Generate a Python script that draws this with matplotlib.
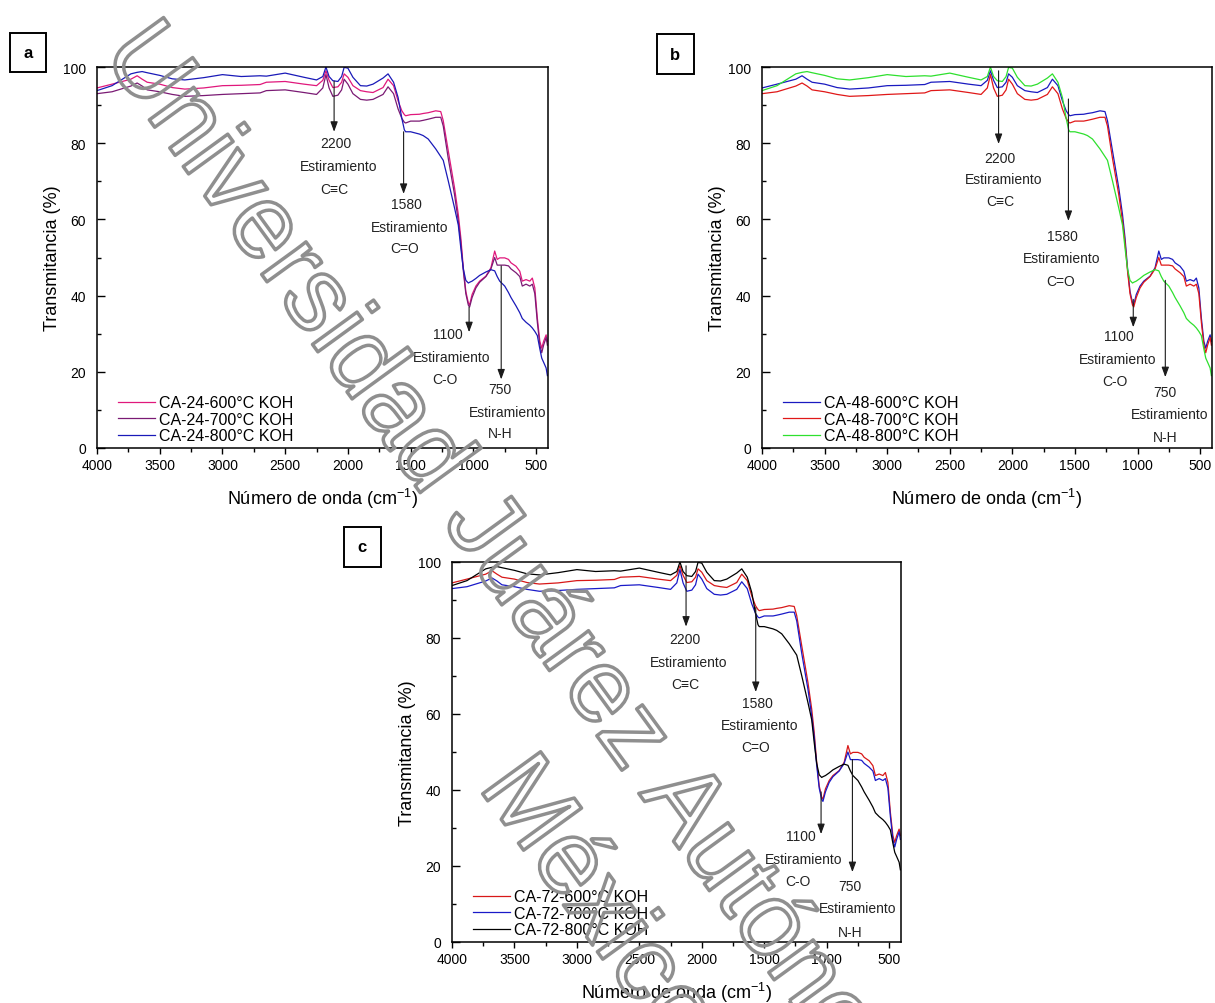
import matplotlib
matplotlib.use('Agg')
import matplotlib.pyplot as plt
import matplotlib.patheffects as pe
from matplotlib.patches import Rectangle
from matplotlib.ticker import MultipleLocator

plt.rcParams['font.family'] = ['Liberation Sans', 'DejaVu Sans']
plt.rcParams['mathtext.default'] = 'regular'

W, H = 1215, 1004

# FTIR spectra, wavenumber in cm-1, transmittance in %
wavenumber = [4000, 3880, 3730, 3680, 3640, 3600, 3500, 3400, 3300, 3150,
              3000, 2850, 2700, 2650, 2500, 2350, 2250, 2200, 2175, 2150,
              2120, 2080, 2050, 2030, 2000, 1960, 1900, 1850, 1800, 1720,
              1680, 1636, 1600, 1570, 1550, 1540, 1500, 1430, 1400, 1360,
              1300, 1260, 1240, 1200, 1150, 1120, 1100, 1080, 1060, 1040,
              1030, 1010, 980, 950, 900, 860, 830, 810, 790, 750,
              720, 700, 660, 630, 610, 580, 550, 530, 510, 490,
              470, 455, 440, 420, 410]

trans_600 = [94.5, 95.5, 96.8, 97.7, 96.8, 96.0, 95.5, 94.6, 94.2, 94.5,
             95.1, 95.2, 95.4, 96.0, 96.2, 95.5, 95.1, 96.5, 99.0, 96.5,
             94.6, 94.8, 96.0, 98.2, 97.3, 95.1, 93.8, 93.5, 93.3, 94.6,
             96.8, 95.1, 91.1, 88.5, 87.5, 87.2, 87.5, 87.6, 87.8, 88.0,
             88.5, 88.3, 85.9, 78.0, 68.3, 61.3, 55.2, 47.3, 41.1, 38.1,
             37.6, 40.3, 42.5, 43.8, 45.1, 47.3, 51.7, 49.5, 49.9, 49.9,
             49.5, 48.6, 47.7, 46.4, 43.8, 44.2, 43.8, 44.6, 42.0, 34.1,
             28.0, 26.2, 28.0, 29.7, 28.0]

trans_700 = [93.0, 93.5, 95.0, 95.8, 95.0, 94.0, 93.5, 92.8, 92.3, 92.5,
             92.8, 93.0, 93.2, 93.8, 94.0, 93.3, 92.8, 94.5, 98.0, 94.5,
             92.3, 92.6, 94.0, 96.8, 95.5, 93.0, 91.5, 91.3, 91.5, 92.8,
             94.8, 93.0, 89.0, 86.5, 85.5, 85.3, 85.8, 85.8, 86.0, 86.3,
             86.8, 86.8, 84.5, 76.0, 66.5, 59.5, 54.0, 46.5, 40.5, 37.5,
             37.0, 39.5, 42.0, 43.5, 45.0, 47.0, 50.0, 48.0, 48.0, 48.0,
             47.8, 47.0, 46.0, 45.0, 42.5, 43.0, 42.5, 43.0, 40.5, 33.0,
             27.0, 25.0, 27.0, 29.0, 27.0]

trans_800 = [93.8, 95.1, 98.2, 98.6, 98.8, 98.5, 97.8, 96.9, 96.6, 97.2,
             98.0, 97.5, 97.7, 97.6, 98.4, 97.3, 96.6, 97.5, 100.0, 97.5,
             96.4, 96.2, 97.5, 99.9, 99.7, 97.3, 95.1, 95.0, 95.5, 97.1,
             98.2, 96.0, 92.0, 86.5, 83.5, 83.0, 83.0, 82.4, 82.0, 81.1,
             78.5, 76.5, 75.5, 70.1, 63.0, 58.5, 52.5, 47.0, 44.0, 43.3,
             43.5, 43.8, 44.5, 45.3, 46.2, 46.8, 46.5, 45.0, 43.8, 42.5,
             40.8, 39.5, 37.3, 35.5, 34.0, 33.0, 32.2, 31.5, 30.6, 29.5,
             26.0, 23.6, 22.5, 21.0, 19.0]

temperatures = ['600', '700', '800']
series = [trans_600, trans_700, trans_800]

# band assignments: arrow x, arrow start/end y, and the label lines (text, x, y)
bands_a = [
    (2110, 96.3, 83.0, [('2200', 2096, 80.0), ('Estiramiento', 2070, 74.0), ('C≡C', 2105, 68.0)]),
    (1556, 83.0, 66.7, [('1580', 1536, 64.0), ('Estiramiento', 1507, 58.0), ('C=O', 1551, 52.5)]),
    (1034, 37.0, 30.4, [('1100', 1201, 29.9), ('Estiramiento', 1170, 24.0), ('C-O', 1228, 18.0)]),
    (778, 47.8, 18.0, [('750', 785, 15.5), ('Estiramiento', 730, 9.4), ('N-H', 785, 4.0)]),
]
bands_b = [
    (2110, 99.0, 79.8, [('2200', 2102, 76.0), ('Estiramiento', 2070, 70.6), ('C≡C', 2100, 64.8)]),
    (1552, 91.6, 59.6, [('1580', 1600, 55.7), ('Estiramiento', 1608, 49.8), ('C=O', 1615, 43.9)]),
    (1034, 39.0, 31.7, [('1100', 1145, 29.4), ('Estiramiento', 1160, 23.4), ('C-O', 1180, 17.6)]),
    (778, 44.0, 18.6, [('750', 778, 14.7), ('Estiramiento', 746, 8.9), ('N-H', 778, 3.0)]),
]
bands_c = [
    (2126, 99.0, 83.0, [('2200', 2135, 79.7), ('Estiramiento', 2103, 73.7), ('C≡C', 2135, 68.0)]),
    (1568, 88.0, 65.8, [('1580', 1558, 63.0), ('Estiramiento', 1534, 57.0), ('C=O', 1566, 51.3)]),
    (1045, 39.5, 28.4, [('1100', 1210, 27.9), ('Estiramiento', 1185, 21.8), ('C-O', 1230, 16.0)]),
    (794, 48.0, 18.4, [('750', 815, 14.7), ('Estiramiento', 750, 9.0), ('N-H', 815, 2.6)]),
]

# letter, axes box in pixels (left, top, right, bottom), label box, sample prefix, colours
panels = [
    ('a', (97, 68, 548, 449), (10, 34, 46, 73), 'CA-24',
     ['#e0187c', '#7a1a74', '#1a1ab8'], bands_a),
    ('b', (762, 68, 1212, 449), (657, 35, 694, 75), 'CA-48',
     ['#1a1ac0', '#e01818', '#2ee02e'], bands_b),
    ('c', (452, 563, 901, 943), (344, 528, 381, 568), 'CA-72',
     ['#d81818', '#1a1ac8', '#000000'], bands_c),
]

fig = plt.figure(figsize=(W / 100, H / 100), dpi=100)

for letter, (l, t, r, b), (bl, bt, br, bb), prefix, colors, bands in panels:
    ax = fig.add_axes([l / W, 1 - b / H, (r - l) / W, (b - t) / H])
    for temp, vals, col in zip(temperatures, series, colors):
        ax.plot(wavenumber, vals, color=col, lw=0.9, label=f'{prefix}-{temp}°C KOH')

    ax.set_xlim(4000, 405)
    ax.set_ylim(0, 100)
    ax.xaxis.set_major_locator(MultipleLocator(500))
    ax.xaxis.set_minor_locator(MultipleLocator(250))
    ax.yaxis.set_major_locator(MultipleLocator(20))
    ax.yaxis.set_minor_locator(MultipleLocator(10))
    ax.tick_params(axis='x', which='major', direction='out', length=4.5, width=1, labelsize=10, pad=3)
    ax.tick_params(axis='x', which='minor', direction='out', length=3, width=1)
    ax.tick_params(axis='y', which='major', direction='in', length=5.5, width=1, labelsize=10, pad=8)
    ax.tick_params(axis='y', which='minor', direction='in', length=3, width=1)
    for s in ax.spines.values():
        s.set_linewidth(1.1)

    ax.set_xlabel('Número de onda (cm$^{-1}$)', fontsize=13, labelpad=10)
    ax.set_ylabel('Transmitancia (%)', fontsize=13, labelpad=1)

    for x, y0, y1, lines in bands:
        ax.annotate('', xy=(x, y1), xytext=(x, y0),
                    arrowprops=dict(arrowstyle='-|>,head_length=0.6,head_width=0.22',
                                    color='#1a1a1a', lw=0.8, shrinkA=0, shrinkB=0,
                                    mutation_scale=10))
        for txt, tx, ty in lines:
            ax.text(tx, ty, txt, ha='center', va='center', fontsize=10, color='#222222')

    ax.legend(loc='lower left', bbox_to_anchor=(0.047, 0.012), frameon=False,
              fontsize=11.5, handlelength=2.3, handletextpad=0.25,
              labelspacing=0.1, borderpad=0, borderaxespad=0)

    fig.add_artist(Rectangle((bl / W, 1 - bb / H), (br - bl) / W, (bb - bt) / H,
                             transform=fig.transFigure, fc='white', ec='black', lw=1.4))
    fig.text((bl + br) / 2 / W, 1 - (bt + bb) / 2 / H, letter, ha='center', va='center',
             fontsize=12, fontweight='bold')

# repository watermark, outlined letters only
outline = [pe.Stroke(linewidth=2.5, foreground='#8f8f8f')]
fig.text(682 / W, 1 - 854 / H, 'Universidad Juárez Autónoma de Tabasco.', fontsize=75,
         rotation=-54, rotation_mode='anchor', ha='center', va='baseline',
         color=(0, 0, 0, 0), path_effects=outline, zorder=5)
fig.text(583 / W, 1 - 933 / H, 'México.', fontsize=75,
         rotation=-54, rotation_mode='anchor', ha='center', va='baseline',
         color=(0, 0, 0, 0), path_effects=outline, zorder=5)

fig.savefig('out.png', dpi=100, facecolor='white')
